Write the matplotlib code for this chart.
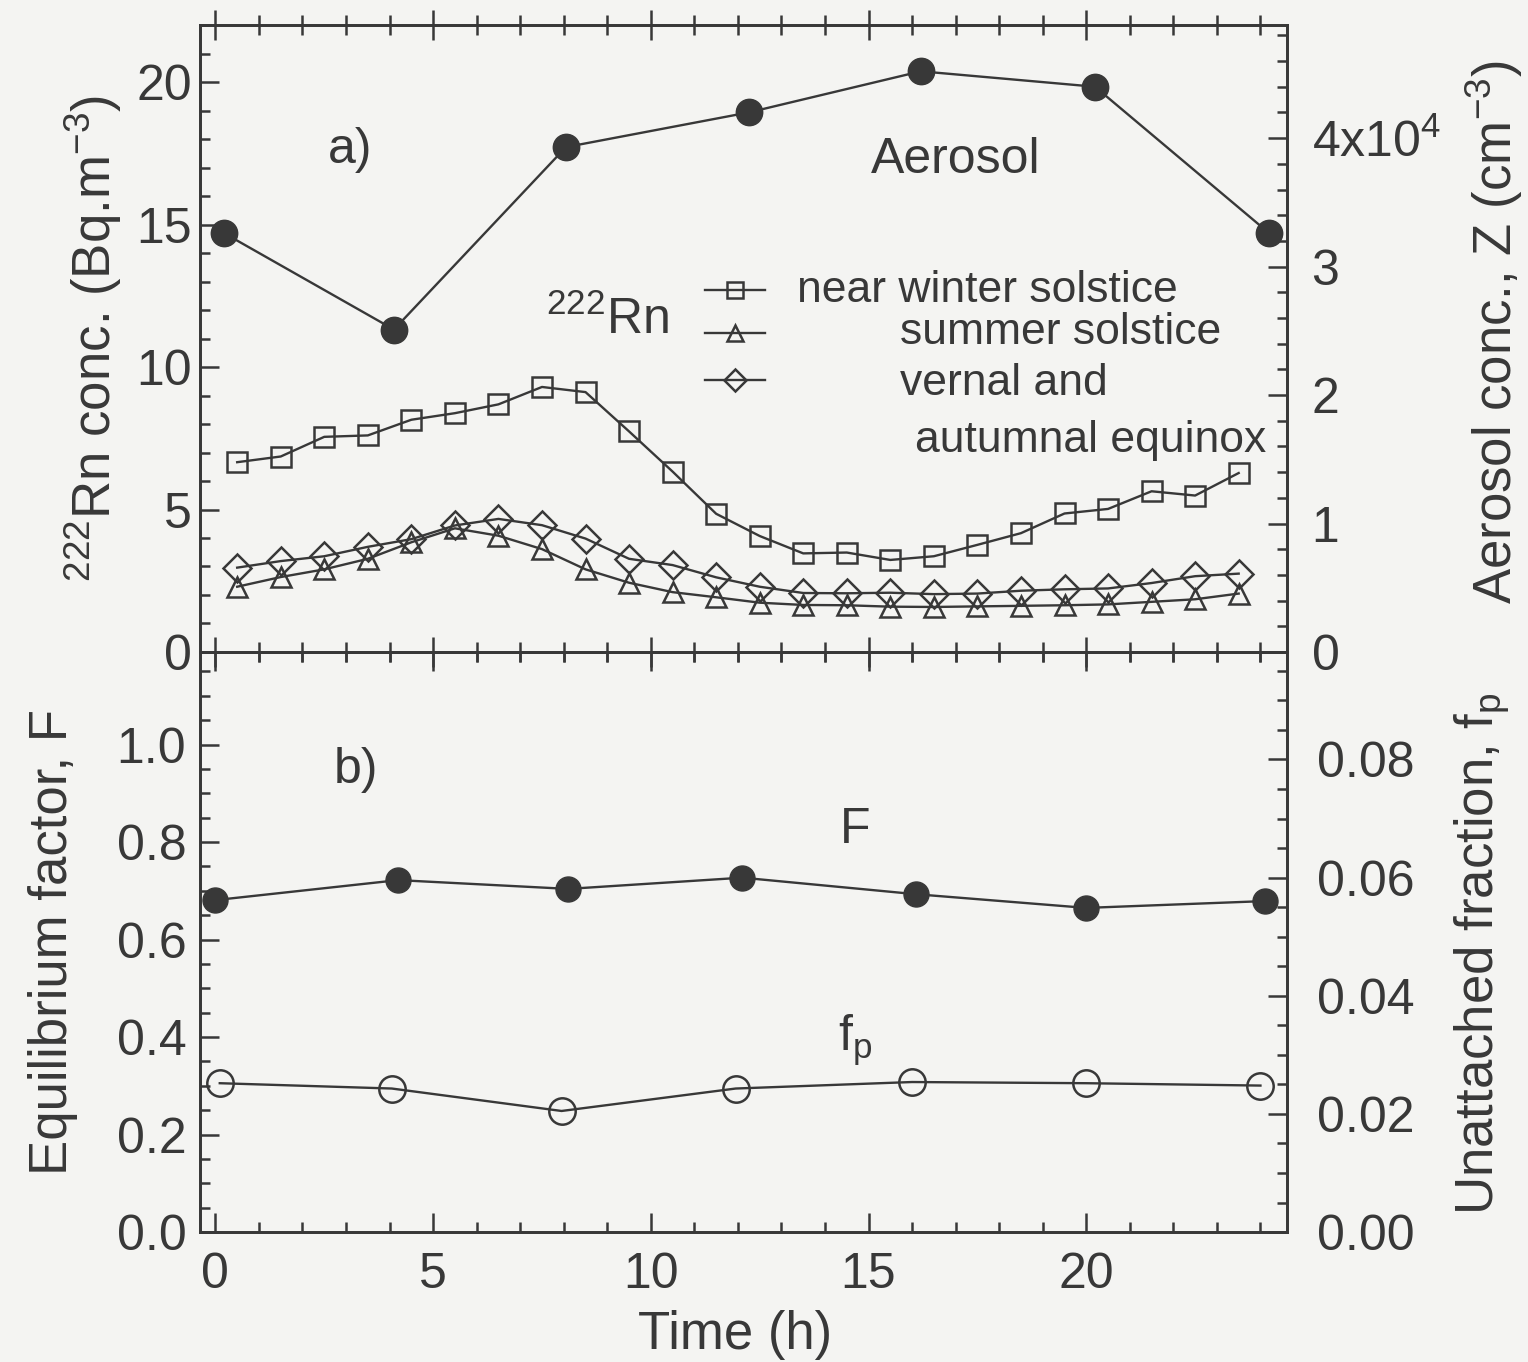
import numpy as np
import matplotlib
matplotlib.use("Agg")
import matplotlib.pyplot as plt
from matplotlib.lines import Line2D
from matplotlib.ticker import MultipleLocator

plt.rcParams['font.family'] = ['Liberation Sans', 'DejaVu Sans']
plt.rcParams['mathtext.fontset'] = 'custom'
plt.rcParams['mathtext.rm'] = 'Liberation Sans'
plt.rcParams['mathtext.it'] = 'Liberation Sans'

INK = '#383838'
PAPER = '#f4f4f2'

# hourly 222Rn concentration (Bq m-3)
rn_hours = [0.5, 1.5, 2.5, 3.5, 4.5, 5.5, 6.5, 7.5, 8.5, 9.5, 10.5, 11.5,
            12.5, 13.5, 14.5, 15.5, 16.5, 17.5, 18.5, 19.5, 20.5, 21.5, 22.5, 23.5]
rn_winter = [6.66, 6.86, 7.55, 7.60, 8.15, 8.38, 8.69, 9.30, 9.12, 7.74, 6.33, 4.85,
             4.07, 3.46, 3.49, 3.23, 3.36, 3.76, 4.17, 4.86, 5.02, 5.64, 5.49, 6.28]
rn_summer = [2.29, 2.63, 2.90, 3.27, 3.85, 4.34, 4.08, 3.61, 2.90, 2.43, 2.10, 1.92,
             1.73, 1.65, 1.64, 1.59, 1.58, 1.60, 1.62, 1.64, 1.67, 1.76, 1.85, 2.05]
rn_equinox = [2.96, 3.19, 3.36, 3.69, 3.96, 4.44, 4.67, 4.45, 3.98, 3.27, 3.05, 2.62,
              2.29, 2.07, 2.06, 2.08, 2.03, 2.05, 2.15, 2.20, 2.23, 2.42, 2.66, 2.75]

# aerosol concentration, units of 1e4 cm-3
aer_hours = [0.2, 4.1, 8.05, 12.25, 16.2, 20.2, 24.2]
aerosol = [3.26, 2.51, 3.93, 4.20, 4.52, 4.40, 3.26]

# equilibrium factor and unattached fraction
f_hours = [0.0, 4.2, 8.1, 12.1, 16.1, 20.0, 24.1]
eq_factor = [0.681, 0.722, 0.704, 0.727, 0.693, 0.665, 0.679]
fp_hours = [0.1, 4.05, 7.95, 11.95, 16.0, 20.0, 24.0]
unattached = [0.0252, 0.0243, 0.0205, 0.0243, 0.0254, 0.0252, 0.0248]

aer_ticks = [0, 1, 2, 3, 4]
aer_ticklabels = ['0', '1', '2', '3', '4x10$^4$']

TICK_FS = 36
LABEL_FS = 38
NOTE_FS = 36

fig = plt.figure(figsize=(15.28, 13.62), dpi=100, facecolor=PAPER)
ax1 = fig.add_axes([0.131, 0.5213, 0.711, 0.4603])
ax2 = fig.add_axes([0.131, 0.0954, 0.711, 0.4259], sharex=ax1)
ax1r = ax1.twinx()
ax2r = ax2.twinx()

for a in (ax1, ax2, ax1r, ax2r):
    a.set_facecolor('none')
    for s in a.spines.values():
        s.set_color(INK)
        s.set_linewidth(2.0)
    a.tick_params(which='both', direction='in', colors=INK, labelsize=TICK_FS,
                  width=1.8, top=True)
    a.tick_params(which='major', length=14)
    a.tick_params(which='minor', length=7)

lw = 1.7
line_kw = dict(color=INK, lw=lw, mfc='none', mec=INK, mew=1.8)

ax1.plot(rn_hours, rn_winter, marker='s', ms=15, **line_kw)
ax1.plot(rn_hours, rn_summer, marker='^', ms=14, **line_kw)
ax1.plot(rn_hours, rn_equinox, marker='D', ms=14, **line_kw)
ax1r.plot(aer_hours, aerosol, marker='o', ms=19, color=INK, lw=lw,
          mfc=INK, mec=INK, clip_on=False)

ax2.plot(f_hours, eq_factor, marker='o', ms=18, color=INK, lw=lw,
         mfc=INK, mec=INK, clip_on=False)
ax2r.plot(fp_hours, unattached, marker='o', ms=19, clip_on=False, **line_kw)

ax1.set_xlim(-0.35, 24.6)
ax1.set_ylim(0, 22)
ax1r.set_ylim(0, 4.88)
ax2.set_ylim(0, 1.19)
ax2r.set_ylim(0, 0.0982)

ax1.xaxis.set_major_locator(MultipleLocator(5))
ax1.xaxis.set_minor_locator(MultipleLocator(1))
ax1.yaxis.set_major_locator(MultipleLocator(5))
ax1.yaxis.set_minor_locator(MultipleLocator(1))
ax1r.set_yticks(aer_ticks, aer_ticklabels)
ax1r.yaxis.set_minor_locator(MultipleLocator(0.2))
ax2.yaxis.set_major_locator(MultipleLocator(0.2))
ax2.yaxis.set_minor_locator(MultipleLocator(0.05))
ax2.yaxis.set_major_formatter(lambda v, p: f'{v:.1f}')
ax2r.yaxis.set_major_locator(MultipleLocator(0.02))
ax2r.yaxis.set_minor_locator(MultipleLocator(0.005))
ax2r.yaxis.set_major_formatter(lambda v, p: f'{v:.2f}')

ax1.tick_params(axis='x', which='both', labelbottom=False, direction='inout')
ax1.tick_params(axis='x', which='major', length=22)
ax1.tick_params(axis='x', which='minor', length=14)
ax1.tick_params(axis='y', pad=6)
ax2.tick_params(axis='y', pad=10)
ax2.tick_params(axis='x', pad=14)
ax1r.tick_params(axis='y', pad=18)
ax2r.tick_params(axis='y', pad=22)

ax1.set_ylabel('$^{222}$Rn conc. (Bq.m$^{-3}$)', fontsize=LABEL_FS, color=INK)
ax1.yaxis.set_label_coords(-0.07, 0.50)
ax1r.set_ylabel('Aerosol conc., Z (cm$^{-3}$)', fontsize=LABEL_FS, color=INK)
ax1r.yaxis.set_label_coords(1.163, 0.51)
ax2.set_ylabel('Equilibrium factor, F', fontsize=LABEL_FS, color=INK)
ax2.yaxis.set_label_coords(-0.112, 0.50)
ax2r.set_ylabel('Unattached fraction, f$_\\mathrm{p}$', fontsize=LABEL_FS,
                color=INK)
ax2r.yaxis.set_label_coords(1.153, 0.48)
ax2.set_xlabel('Time (h)', fontsize=LABEL_FS, color=INK)
ax2.xaxis.set_label_coords(0.492, -0.135)

ax1.text(0.138, 0.80, 'a)', ha='center', va='center', fontsize=NOTE_FS,
         color=INK, transform=ax1.transAxes)
ax1.text(0.695, 0.785, 'Aerosol', ha='center', va='center', fontsize=NOTE_FS,
         color=INK, transform=ax1.transAxes)
ax1.text(0.375, 0.53, '$^{222}$Rn', ha='center', va='center', fontsize=NOTE_FS,
         color=INK, transform=ax1.transAxes)

# hand-placed key for the three Rn series
key_rows = [(0.577, 's', 15), (0.509, '^', 14), (0.434, 'D', 14)]
for ky, mk, ms in key_rows:
    ax1.add_line(Line2D([0.465, 0.52], [ky, ky], transform=ax1.transAxes,
                        color=INK, lw=lw))
    ax1.add_line(Line2D([0.4925], [ky], transform=ax1.transAxes, marker=mk,
                        ms=ms - 3, mfc='none', mec=INK, mew=1.8, color=INK))
key_txt = dict(fontsize=32, color=INK, va='center', ha='left',
               transform=ax1.transAxes)
ax1.text(0.549, 0.577, 'near winter solstice', **key_txt)
ax1.text(0.644, 0.509, 'summer solstice', **key_txt)
ax1.text(0.644, 0.429, 'vernal and', **key_txt)
ax1.text(0.658, 0.338, 'autumnal equinox', **key_txt)

ax2.text(0.143, 0.797, 'b)', ha='center', va='center', fontsize=NOTE_FS,
         color=INK, transform=ax2.transAxes)
ax2.text(0.603, 0.693, 'F', ha='center', va='center', fontsize=NOTE_FS,
         color=INK, transform=ax2.transAxes)
ax2.text(0.603, 0.331, 'f$_\\mathrm{p}$', ha='center', va='center',
         fontsize=NOTE_FS, color=INK, transform=ax2.transAxes)

fig.savefig('out.png', dpi=100, facecolor=PAPER)
